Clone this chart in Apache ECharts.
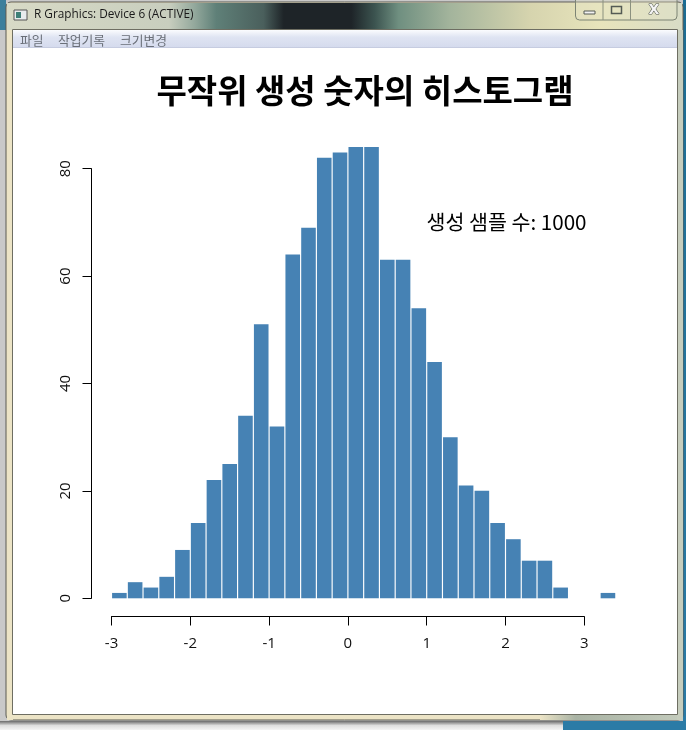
<!DOCTYPE html>
<html>
<head>
<meta charset="utf-8">
<style>html,body{margin:0;padding:0;background:#fff}#c{width:686px;height:730px}</style>
<script src="https://cdn.jsdelivr.net/npm/echarts@6/dist/echarts.min.js"></script>
</head>
<body>
<div id="c"></div>
<script>
const binStarts = [-3,-2.8,-2.6,-2.4,-2.2,-2,-1.8,-1.6,-1.4,-1.2,-1,-0.8,-0.6,-0.4,-0.2,0,0.2,0.4,0.6,0.8,1,1.2,1.4,1.6,1.8,2,2.2,2.4,2.6,2.8,3,3.2];
const counts = [1,3,2,4,9,14,22,25,34,51,32,64,69,82,83,84,84,63,63,54,44,30,21,20,14,11,7,7,2,0,0,1];
const titleText = '무작위 생성 숫자의 히스토그램';
const noteText = '생성 샘플 수: 1000';
const yName = '빈도';
const windowTitle = 'R Graphics: Device 6 (ACTIVE)';
const menuItems = ['파일','작업기록','크기변경'];
const menuX = [20,58,120];

const korean = '"Noto Sans CJK KR"';
const latin = '"Open Sans","Noto Sans CJK KR"';
const chart = echarts.init(document.getElementById('c'), null, {renderer:'canvas'});

function rect(x,y,w,h,fill,extra){return Object.assign({type:'rect',silent:true,shape:{x,y,width:w,height:h},style:{fill}},extra||{});}
function hgrad(stops){return new echarts.graphic.LinearGradient(0,0,1,0,stops.map(s=>({offset:s[0],color:s[1]})));}
function vgrad(stops){return new echarts.graphic.LinearGradient(0,0,0,1,stops.map(s=>({offset:s[0],color:s[1]})));}
function txt(x,y,text,font,fill,align,extra){return Object.assign({type:'text',silent:true,x,y,style:{text,font,fill,align:align||'left',verticalAlign:'middle'}},extra||{});}

const chrome = [
  // desktop behind the window
  rect(0,0,686,730,'#c9c9c9'),
  rect(0,0,6,30,'#3c7f9c'),
  rect(0,721,563,9,vgrad([[0,'#6a6a6a'],[0.5,'#dedede'],[1,'#f4f4f4']])),
  rect(563,721,123,9,'#2b7ba6'),
  rect(683,0,3,730,vgrad([[0,'#1c6c92'],[1,'#2b7ba6']])),
  // window frame
  {type:'rect',silent:true,shape:{x:6,y:2,width:677,height:718,r:5},style:{fill:'#ece4c6',stroke:'#5a5a52',lineWidth:1}},
  rect(7,3,675,27,hgrad([[0,'#d8dac6'],[0.24,'#c8cebe'],[0.278,'#93a89c'],[0.31,'#5f8078'],[0.38,'#4a5f5c'],[0.41,'#1e2428'],[0.51,'#1e2428'],[0.545,'#3c5450'],[0.58,'#6f8f80'],[0.656,'#a3b49c'],[0.775,'#d6d4ae'],[0.88,'#e8e4bc'],[1,'#d8dcc6']])),
  rect(7,30,6,690,'#ece4c6'),
  rect(540,714,143,6,hgrad([[0,'#ece4c6'],[0.25,'#a9b3a4'],[1,'#c3cbbc']])),
  rect(677,30,6,690,'#c6cdbd'),
  // client area
  {type:'rect',silent:true,shape:{x:12.5,y:29.5,width:665,height:685},style:{fill:'#ffffff',stroke:'#6e6e62',lineWidth:1}},
  rect(13,30,664,18,vgrad([[0,'#fbfcfe'],[0.4,'#dfe4f2'],[0.95,'#d5dbed'],[1,'#b4b9d0']])),
  // window icon and title
  rect(14,10,13,10,'#e8ecee',{style:{fill:'#e8ecee',stroke:'#555',lineWidth:1}}),
  rect(16,12,5,6,'#3d7f78'),
  txt(34,15,windowTitle,'11.8px '+latin,'#1a1a1a'),
  // caption buttons
  {type:'rect',silent:true,shape:{x:575.5,y:-4,width:101.5,height:24,r:4},style:{fill:'rgba(230,230,200,0.35)',stroke:'#7d8474',lineWidth:1}},
  {type:'line',silent:true,shape:{x1:603,y1:0,x2:603,y2:20},style:{stroke:'#8b917f',lineWidth:1}},
  {type:'line',silent:true,shape:{x1:630.5,y1:0,x2:630.5,y2:20},style:{stroke:'#8b917f',lineWidth:1}},
  {type:'rect',silent:true,shape:{x:584,y:11,width:11,height:3},style:{fill:'#f2f2f2',stroke:'#555b55',lineWidth:1}},
  {type:'rect',silent:true,shape:{x:611.5,y:6.5,width:10,height:7},style:{fill:'none',stroke:'#555b55',lineWidth:1.5}},
  txt(654,10,'X','bold 14px "DejaVu Sans"','#eeeeee','center',{style:{text:'X',font:'bold 14px "DejaVu Sans"',fill:'#f4f4f4',stroke:'#4f554f',lineWidth:1,align:'center',verticalAlign:'middle'}})
];
menuItems.forEach((m,i)=>chrome.push(txt(menuX[i],40,m,'12.8px '+korean,'#6a6f78')));
chrome.push(
  txt(365,90,titleText,'bold 33px '+korean,'#000000','center'),
  txt(506.5,222,noteText,'20.6px '+korean,'#000000','center'),
  txt(25,372,yName,'13px '+korean,'#000000','center',{rotation:Math.PI/2,originX:25,originY:372})
);

chart.setOption({
  animation:false,
  backgroundColor:'#ffffff',
  graphic:{elements:chrome},
  grid:[
    // bars: from -3 to 3.4, counts 0 to 84
    {left:111.5,top:598.3-84*5.372,width:6.4*78.8,height:84*5.372},
    // detached x axis, spans -3..3
    {left:111.5,top:615,width:6*78.8,height:1.5},
    // detached y axis, spans 0..80
    {left:91.5,top:168.7,width:1,height:429.6}
  ],
  xAxis:[
    {gridIndex:0,type:'category',data:binStarts,show:false},
    {gridIndex:1,type:'value',min:-3,max:3,interval:1,position:'bottom',
      axisLine:{show:true,onZero:false,lineStyle:{color:'#000',width:1}},
      axisTick:{show:true,length:9,lineStyle:{color:'#000',width:1}},
      axisLabel:{show:true,margin:20,fontFamily:'"Open Sans"',fontSize:15,color:'#111',showMinLabel:true,showMaxLabel:true,hideOverlap:false},
      splitLine:{show:false}},
    {gridIndex:2,type:'value',show:false,min:0,max:1}
  ],
  yAxis:[
    {gridIndex:0,type:'value',min:0,max:84,show:false},
    {gridIndex:1,type:'value',min:0,max:1,show:false},
    {gridIndex:2,type:'value',min:0,max:80,interval:20,position:'left',
      axisLine:{show:true,onZero:false,lineStyle:{color:'#000',width:1}},
      axisTick:{show:true,length:9,lineStyle:{color:'#000',width:1}},
      axisLabel:{show:true,rotate:90,margin:26,fontFamily:'"Open Sans"',fontSize:15,color:'#111',align:'center',verticalAlign:'middle'},
      splitLine:{show:false}}
  ],
  series:[{
    type:'bar',xAxisIndex:0,yAxisIndex:0,data:counts,
    barWidth:14.6,
    itemStyle:{color:'#4682b4'},
    silent:true
  }]
});
</script>
</body>
</html>
